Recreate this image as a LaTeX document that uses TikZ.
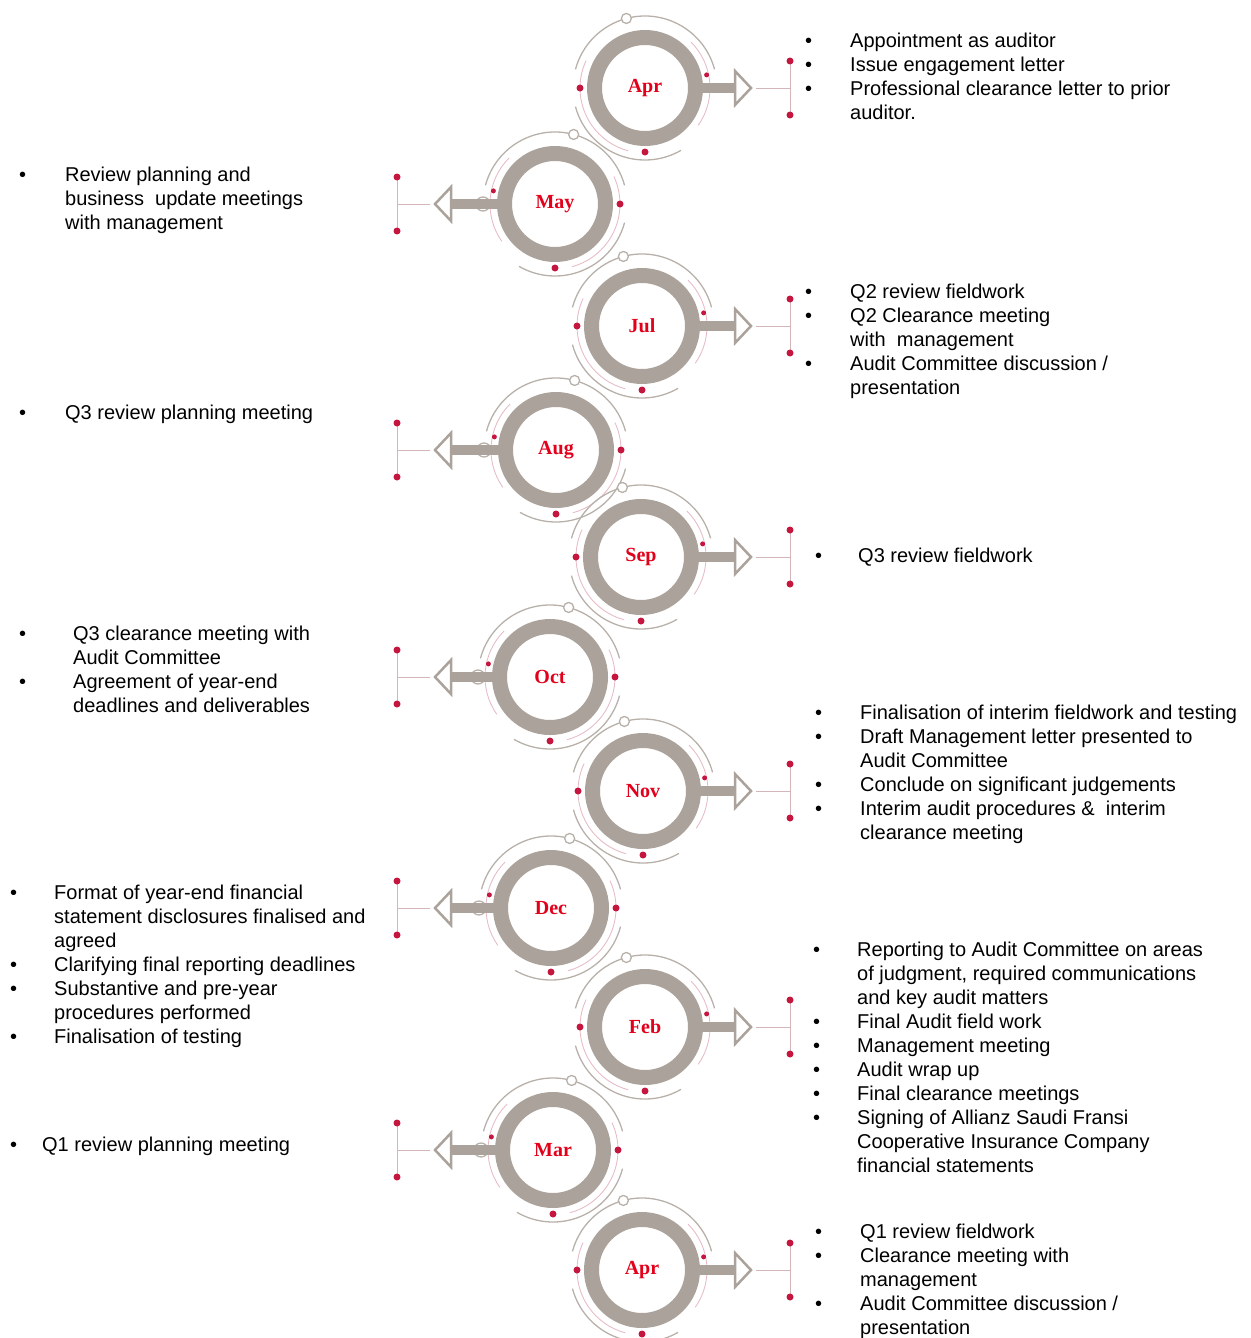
\documentclass[tikz,border=0pt]{standalone}
\usepackage{fontspec}
\setmainfont{Liberation Sans}
\newfontfamily\monthfont{Liberation Serif}

\definecolor{ringgray}{HTML}{ABA39B}
\definecolor{dotred}{HTML}{C4163F}
\definecolor{monthred}{HTML}{E3001B}
\definecolor{tracepink}{HTML}{E6BDC6}

\begin{document}
\begin{tikzpicture}[x=1pt, y=-1pt,
    ring/.style={circle, draw=ringgray, fill=white, line width=15pt, minimum size=101pt,
      inner sep=0pt, text=monthred, font=\monthfont\bfseries\fontsize{20}{22}\selectfont},
    orbit/.style={draw=ringgray!85, line width=1.3pt},
    trace/.style={draw=tracepink, line width=0.9pt},
    shaft/.style={draw=ringgray, line width=10pt, shorten <=-2pt},
    head/.style={draw=ringgray, fill=white, line width=2.5pt, line join=miter},
    link/.style={draw=tracepink!70!ringgray, line width=1pt},
    notes/.style={anchor=north west, inner sep=0pt, font=\fontsize{20}{24}\selectfont}]
        \useasboundingbox (0,0) rectangle (1250,1338);

        % months down the page, s = 1 arrow to the right, s = -1 arrow to the left
        \foreach \x/\y/\m/\lab/\s in {645/88/apr/Apr/1, 555/204/may/May/-1, 642/326/jul/Jul/1,
            556/450/aug/Aug/-1, 641/557/sep/Sep/1, 550/677/oct/Oct/-1, 643/791/nov/Nov/1,
            551/908/dec/Dec/-1, 645/1027/feb/Feb/1, 553/1150/mar/Mar/-1, 642/1270/apr2/Apr/1}{
          \pgfmathsetmacro\tipx{\s>0 ? 751-\x : \x-435}
          \pgfmathsetmacro\brkx{\s>0 ? 790-\x : \x-397}
          \begin{scope}[shift={(\x,\y)}, xscale=\s]
            \draw[orbit] (15:72pt) arc (15:165:72pt);
            \draw[orbit] (195:72pt) arc (195:300:72pt);
            \draw[trace] (155:65pt) arc (155:255:65pt);
            \draw[trace] (45:65pt) arc (45:-35:65pt);
            \draw[orbit, fill=white] (105:72pt) circle (5pt);
            \ifnum\s<0 \draw[orbit] (0:72pt) circle (7pt); \fi
            \fill[dotred] (270:64pt) circle (3.5pt);
            \fill[dotred] (180:65pt) circle (3.5pt);
            \fill[dotred] (12:63pt) circle (2.5pt);

            \node[ring] (\m) at (0,0) {\lab};
            \coordinate (\m-base) at (\tipx-15,0);
            \coordinate (\m-tip) at (\tipx,0);
            \coordinate (\m-br) at (\brkx,0);

            \draw[shaft] (\m) -- (\m-base);
            \draw[head] (\tipx-16,-17) -- (\tipx-16,17) -- (\m-tip) -- cycle;
            \draw[link, shorten <=5pt] (\m-tip) -- (\m-br);
            \draw[link] (\brkx,-27) -- (\brkx,27);
            \fill[dotred] (\brkx,-27) circle (3.5pt);
            \fill[dotred] (\brkx,27) circle (3.5pt);
          \end{scope}
        }

        % right hand notes
        \node[notes] (aprnotes) at (805,30) {\begin{tabular}{@{}p{45pt}@{}l@{}}
          \textbullet & Appointment as auditor\\
          \textbullet & Issue engagement letter\\
          \textbullet & Professional clearance letter to prior\\
                      & auditor.
        \end{tabular}};
        \node[notes] (julnotes) at (805,281) {\begin{tabular}{@{}p{45pt}@{}l@{}}
          \textbullet & Q2 review fieldwork\\
          \textbullet & Q2 Clearance meeting\\
                      & with\ \ management\\
          \textbullet & Audit Committee discussion /\\
                      & presentation
        \end{tabular}};
        \node[notes] (sepnotes) at (815,545) {\begin{tabular}{@{}p{43pt}@{}l@{}}
          \textbullet & Q3 review fieldwork
        \end{tabular}};
        \node[notes] (novnotes) at (815,702) {\begin{tabular}{@{}p{45pt}@{}l@{}}
          \textbullet & Finalisation of interim fieldwork and testing\\
          \textbullet & Draft Management letter presented to\\
                      & Audit Committee\\
          \textbullet & Conclude on significant judgements\\
          \textbullet & Interim audit procedures \&\ \ interim\\
                      & clearance meeting
        \end{tabular}};
        \node[notes] (febnotes) at (813,939) {\begin{tabular}{@{}p{44pt}@{}l@{}}
          \textbullet & Reporting to Audit Committee on areas\\
                      & of judgment, required communications\\
                      & and key audit matters\\
          \textbullet & Final Audit field work\\
          \textbullet & Management meeting\\
          \textbullet & Audit wrap up\\
          \textbullet & Final clearance meetings\\
          \textbullet & Signing of Allianz Saudi Fransi\\
                      & Cooperative Insurance Company\\
                      & financial statements
        \end{tabular}};
        \node[notes] (apr2notes) at (815,1221) {\begin{tabular}{@{}p{45pt}@{}l@{}}
          \textbullet & Q1 review fieldwork\\
          \textbullet & Clearance meeting with\\
                      & management\\
          \textbullet & Audit Committee discussion /\\
                      & presentation
        \end{tabular}};

        % left hand notes
        \node[notes] (maynotes) at (19,164) {\begin{tabular}{@{}p{46pt}@{}l@{}}
          \textbullet & Review planning and\\
                      & business\ \ update meetings\\
                      & with management
        \end{tabular}};
        \node[notes] (augnotes) at (19,402) {\begin{tabular}{@{}p{46pt}@{}l@{}}
          \textbullet & Q3 review planning meeting
        \end{tabular}};
        \node[notes] (octnotes) at (19,623) {\begin{tabular}{@{}p{54pt}@{}l@{}}
          \textbullet & Q3 clearance meeting with\\
                      & Audit Committee\\
          \textbullet & Agreement of year-end\\
                      & deadlines and deliverables
        \end{tabular}};
        \node[notes] (decnotes) at (10,882) {\begin{tabular}{@{}p{44pt}@{}l@{}}
          \textbullet & Format of year-end financial\\
                      & statement disclosures finalised and\\
                      & agreed\\
          \textbullet & Clarifying final reporting deadlines\\
          \textbullet & Substantive and pre-year\\
                      & procedures performed\\
          \textbullet & Finalisation of testing
        \end{tabular}};
        \node[notes] (marnotes) at (10,1134) {\begin{tabular}{@{}p{32pt}@{}l@{}}
          \textbullet & Q1 review planning meeting
        \end{tabular}};
      \end{tikzpicture}
\end{document}
